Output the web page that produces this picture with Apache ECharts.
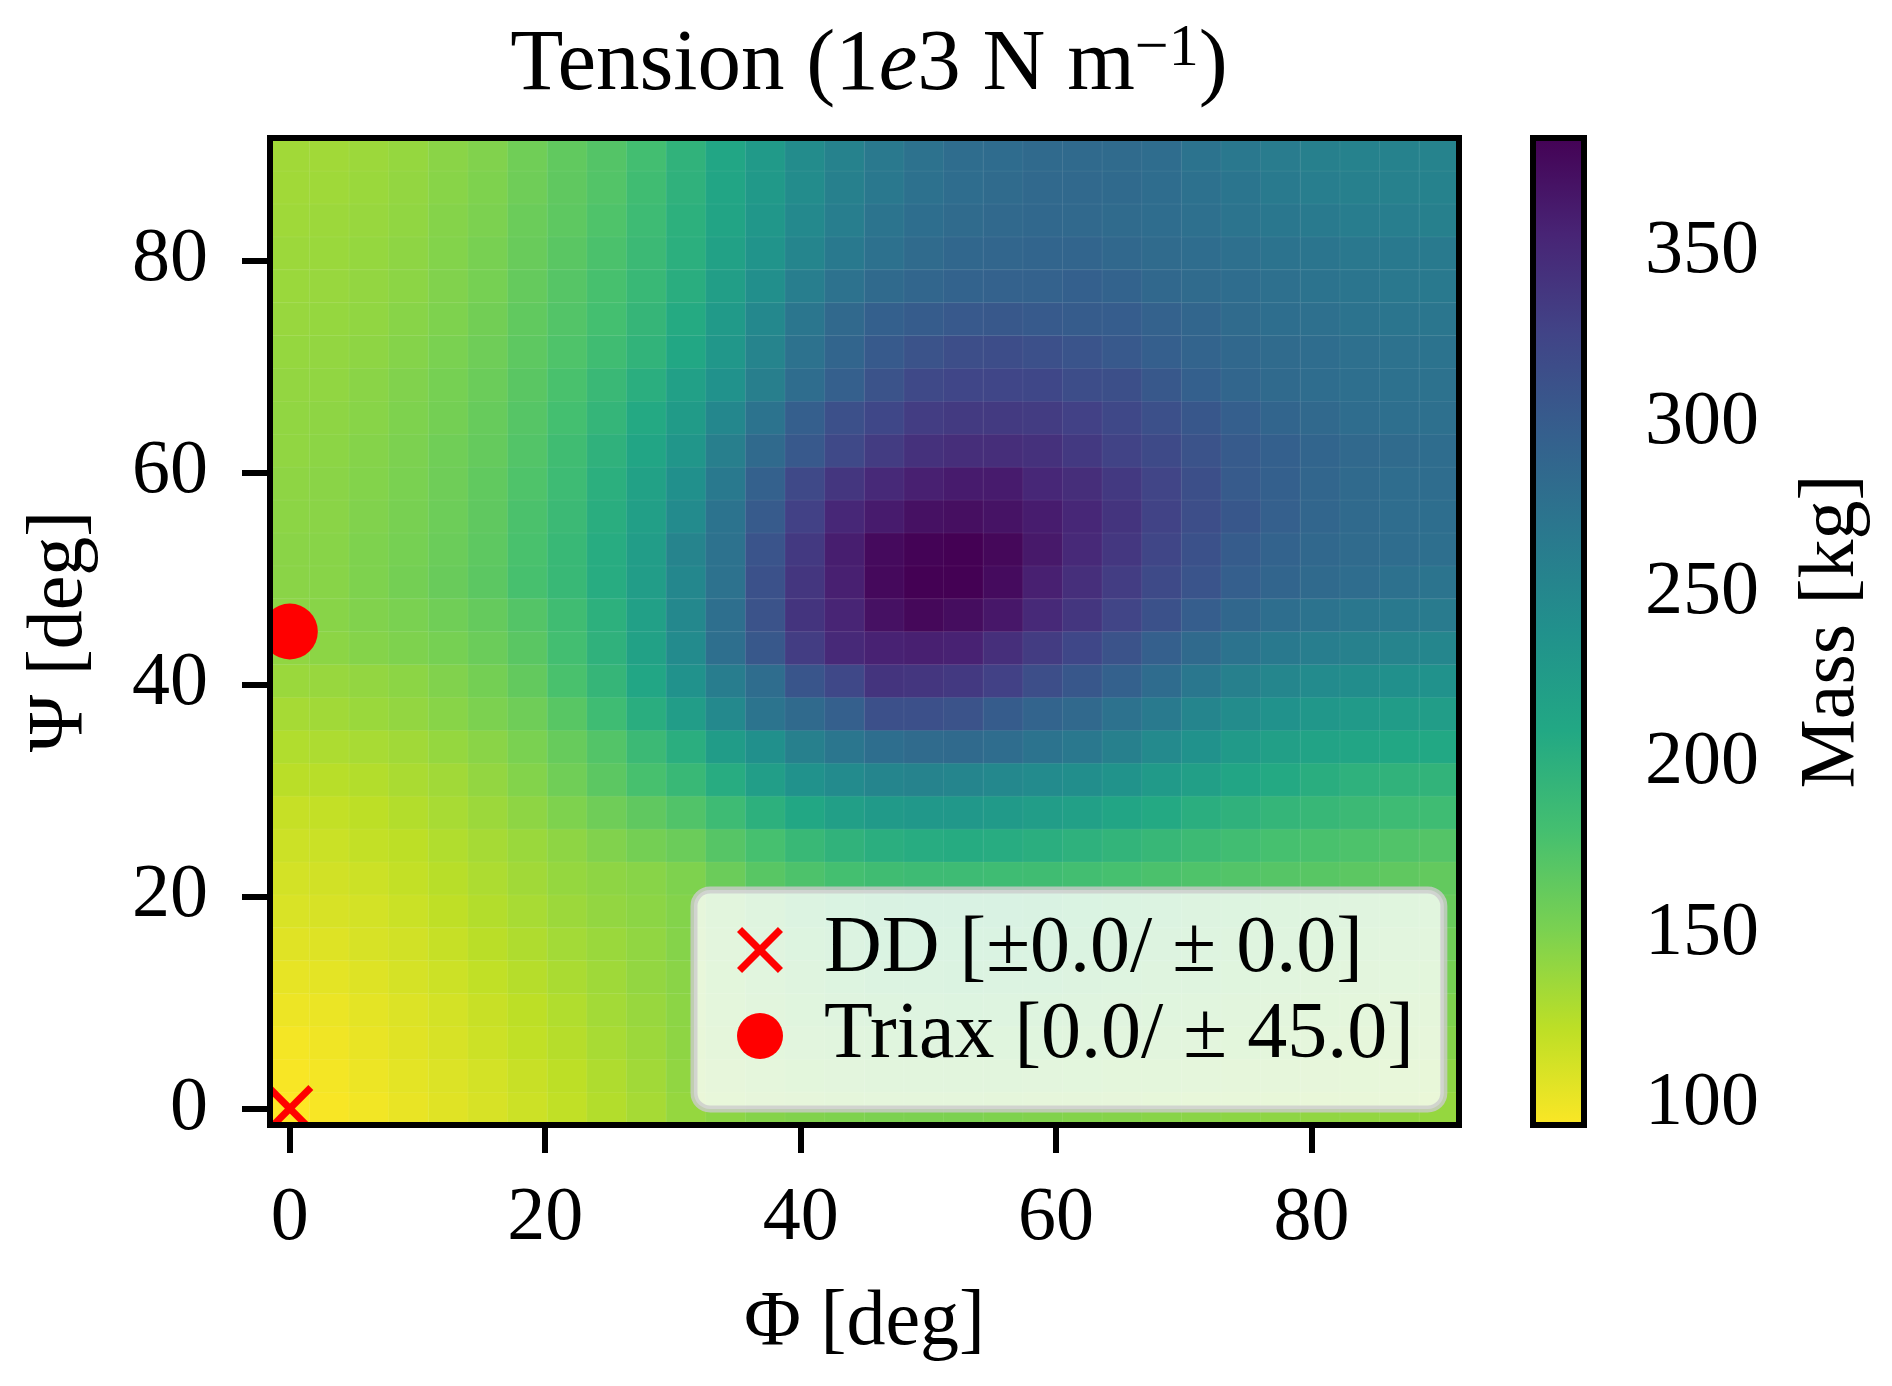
<!DOCTYPE html>
<html lang="en">
<head>
<meta charset="UTF-8">
<title>Tension</title>
<script src="https://cdn.jsdelivr.net/npm/echarts@6/dist/echarts.min.js"></script>
<style>
    html, body { margin: 0; padding: 0; background: #ffffff; }
    #chart { width: 1892px; height: 1386px; }
</style>
</head>
<body>
<div id="chart"></div>
<script type="text/javascript">
// grid angles (deg), 30 x 30 cells
var phiDeg = [0, 3.10, 6.21, 9.31, 12.41, 15.52, 18.62, 21.72, 24.83, 27.93,
    31.03, 34.14, 37.24, 40.34, 43.45, 46.55, 49.66, 52.76, 55.86, 58.97,
    62.07, 65.17, 68.28, 71.38, 74.48, 77.59, 80.69, 83.79, 86.90, 90.00];
var psiDeg = phiDeg.slice();

// mass [kg], one row per psi (row 0 = psi 0), columns follow phiDeg
var massRows = [
    [94, 96, 99, 103, 107, 111, 116, 121, 127, 133, 140, 144, 147, 149, 150, 151, 151, 151, 150, 149, 148, 147, 146, 145, 144, 143, 142, 141, 141, 140],
    [96, 98, 101, 105, 109, 113, 118, 123, 129, 135, 142, 147, 151, 154, 156, 157, 158, 158, 157, 156, 155, 153, 152, 151, 149, 148, 147, 146, 145, 143],
    [98, 100, 103, 107, 111, 116, 121, 126, 132, 137, 143, 150, 155, 159, 161, 163, 164, 164, 163, 162, 161, 159, 157, 156, 154, 152, 151, 149, 148, 147],
    [101, 102, 105, 109, 113, 118, 123, 128, 134, 139, 144, 152, 158, 162, 166, 168, 169, 170, 169, 168, 166, 164, 162, 160, 158, 156, 154, 152, 151, 150],
    [104, 105, 108, 112, 116, 121, 126, 131, 136, 141, 145, 154, 161, 166, 170, 173, 175, 176, 175, 174, 172, 169, 167, 165, 163, 160, 158, 156, 155, 154],
    [107, 108, 111, 114, 119, 124, 129, 134, 138, 142, 147, 156, 164, 170, 175, 178, 180, 180, 180, 179, 177, 174, 172, 169, 167, 165, 163, 161, 159, 157],
    [110, 111, 113, 117, 122, 127, 132, 137, 141, 144, 148, 158, 167, 173, 178, 181, 183, 183, 183, 182, 180, 177, 175, 172, 170, 168, 166, 164, 163, 161],
    [113, 114, 116, 120, 125, 130, 135, 140, 143, 146, 150, 160, 170, 176, 181, 184, 186, 186, 185, 184, 182, 180, 177, 175, 173, 171, 170, 168, 166, 164],
    [116, 117, 120, 123, 128, 133, 138, 143, 149, 155, 160, 171, 180, 190, 197, 202, 205, 206, 205, 202, 199, 195, 191, 187, 183, 180, 178, 176, 174, 172],
    [119, 120, 123, 127, 132, 137, 143, 150, 158, 166, 174, 186, 200, 211, 221, 228, 230, 230, 227, 224, 220, 214, 208, 202, 198, 194, 191, 188, 186, 185],
    [124, 125, 127, 131, 135, 141, 148, 157, 168, 179, 190, 205, 223, 238, 246, 253, 255, 253, 249, 246, 242, 236, 228, 221, 214, 208, 203, 199, 197, 196],
    [128, 130, 132, 135, 140, 145, 152, 162, 173, 188, 202, 225, 240, 259, 270, 279, 283, 284, 280, 274, 268, 258, 247, 237, 227, 221, 216, 213, 211, 210],
    [133, 135, 138, 141, 146, 151, 158, 170, 185, 203, 224, 248, 272, 284, 296, 313, 313, 310, 300, 291, 285, 275, 265, 253, 245, 238, 231, 227, 225, 224],
    [138, 139, 141, 144, 149, 155, 164, 178, 193, 212, 238, 262, 281, 307, 321, 340, 338, 336, 328, 315, 305, 294, 282, 269, 259, 252, 246, 243, 240, 238],
    [142, 144, 147, 150, 154, 160, 169, 182, 198, 218, 246, 278, 304, 332, 350, 356, 358, 356, 345, 333, 322, 310, 296, 284, 274, 266, 261, 257, 254, 252],
    [144, 146, 149, 152, 157, 163, 172, 184, 200, 220, 249, 278, 310, 340, 354, 370, 378, 374, 365, 350, 338, 325, 312, 298, 287, 279, 273, 269, 266, 264],
    [145, 146, 150, 155, 161, 168, 179, 190, 205, 224, 250, 275, 312, 338, 358, 377, 384, 384, 375, 358, 345, 332, 319, 308, 297, 290, 284, 280, 276, 272],
    [145, 146, 150, 154, 160, 167, 178, 190, 205, 224, 254, 275, 308, 336, 360, 376, 382, 384, 378, 364, 350, 337, 324, 312, 300, 292, 286, 283, 280, 278],
    [144, 145, 149, 153, 159, 166, 177, 188, 203, 221, 246, 273, 301, 328, 352, 362, 370, 372, 369, 361, 352, 340, 327, 315, 305, 296, 289, 284, 281, 279],
    [143, 145, 148, 152, 158, 165, 175, 186, 201, 218, 240, 266, 294, 320, 338, 350, 358, 362, 362, 352, 346, 336, 325, 314, 301, 295, 289, 284, 281, 280],
    [142, 144, 147, 151, 157, 163, 173, 184, 198, 213, 232, 260, 284, 303, 320, 333, 343, 346, 346, 343, 336, 327, 319, 310, 301, 295, 290, 285, 283, 280],
    [142, 143, 146, 150, 155, 162, 171, 181, 194, 208, 226, 250, 274, 297, 313, 322, 332, 335, 335, 333, 328, 321, 313, 305, 297, 290, 285, 281, 278, 277],
    [141, 142, 145, 149, 154, 160, 169, 178, 189, 202, 220, 238, 260, 281, 296, 310, 320, 323, 323, 322, 316, 314, 304, 295, 289, 284, 280, 278, 276, 275],
    [140, 141, 143, 147, 152, 158, 167, 175, 184, 196, 211, 231, 254, 275, 290, 302, 310, 315, 316, 313, 308, 303, 297, 291, 286, 283, 280, 277, 275, 274],
    [139, 140, 142, 146, 150, 156, 165, 173, 181, 193, 207, 227, 249, 270, 285, 295, 300, 303, 304, 302, 300, 299, 293, 288, 283, 279, 277, 274, 271, 270],
    [138, 139, 141, 144, 149, 154, 163, 171, 179, 190, 203, 222, 241, 261, 275, 284, 289, 292, 293, 293, 295, 292, 286, 283, 280, 277, 274, 271, 268, 266],
    [137, 138, 140, 143, 148, 153, 161, 169, 177, 188, 201, 218, 235, 253, 266, 276, 283, 287, 289, 290, 290, 286, 283, 280, 277, 274, 271, 268, 266, 265],
    [136, 137, 139, 142, 147, 151, 160, 167, 175, 186, 200, 215, 231, 248, 261, 272, 279, 283, 285, 286, 285, 283, 281, 277, 272, 269, 265, 262, 261, 259],
    [135, 136, 138, 141, 146, 150, 158, 166, 173, 184, 198, 213, 229, 245, 258, 268, 276, 281, 283, 285, 285, 284, 281, 276, 271, 265, 261, 258, 257, 256],
    [135, 135, 137, 140, 145, 149, 157, 165, 172, 182, 197, 212, 228, 244, 256, 267, 275, 280, 282, 284, 284, 283, 280, 274, 268, 263, 259, 256, 256, 255]
];

var degTicks = [0, 20, 40, 60, 80];
var massTicks = [100, 150, 200, 250, 300, 350];
var degMin = -1.552, degMax = 91.552;   // half a cell beyond 0 and 90
var massMin = 93.9, massMax = 383.6;

var ddName = 'DD [±0.0/ ± 0.0]';
var triaxName = 'Triax [0.0/ ± 45.0]';
var ddPoint = [[0, 0]];
var triaxPoint = [[0, 45]];

// viridis, dark -> light
var viridis = ['#440154', '#482475', '#414487', '#355f8d', '#2a788e', '#21918c',
    '#22a884', '#44bf70', '#7ad151', '#bddf26', '#fde725'];

var serif = 'Liberation Serif';
var red = '#ff0000';

var heatData = [];
for (var j = 0; j < psiDeg.length; j++) {
    for (var i = 0; i < phiDeg.length; i++) {
        heatData.push([i, j, massRows[j][i]]);
    }
}

var barStops = viridis.map(function (c, k) {
    return { offset: k / (viridis.length - 1), color: c };
});

function renderFrame(params, api) {
    var cs = params.coordSys;
    return {
        type: 'rect',
        shape: { x: cs.x, y: cs.y, width: cs.width, height: cs.height },
        style: { fill: 'none', stroke: '#000', lineWidth: 6 }
    };
}

function renderColorbar(params, api) {
    var cs = params.coordSys;
    return {
        type: 'rect',
        shape: { x: cs.x, y: cs.y, width: cs.width, height: cs.height },
        style: {
            fill: new echarts.graphic.LinearGradient(0, 0, 0, 1, barStops),
            stroke: '#000', lineWidth: 6
        }
    };
}

function renderCross(params, api) {
    var p = api.coord([api.value(0), api.value(1)]);
    var h = 21;
    return {
        type: 'group',
        children: [
            { type: 'line', shape: { x1: p[0] - h, y1: p[1] - h, x2: p[0] + h, y2: p[1] + h },
              style: { stroke: red, lineWidth: 7 } },
            { type: 'line', shape: { x1: p[0] - h, y1: p[1] + h, x2: p[0] + h, y2: p[1] - h },
              style: { stroke: red, lineWidth: 7 } }
        ]
    };
}

function renderDot(params, api) {
    var p = api.coord([api.value(0), api.value(1)]);
    return { type: 'circle', shape: { cx: p[0], cy: p[1], r: 28 }, style: { fill: red } };
}

var tickLabel = { fontFamily: serif, fontSize: 76, color: '#000' };
var nameStyle = { fontFamily: serif, fontSize: 78, color: '#000' };

var chart = echarts.init(document.getElementById('chart'));
chart.setOption({
    animation: false,
    backgroundColor: '#ffffff',
    title: {
        text: 'Tension (1{it|e}3 N m{sup|−1})',
        left: 864,
        top: 14,
        textAlign: 'center',
        textStyle: {
            fontFamily: serif, fontSize: 87, fontWeight: 'normal', color: '#000',
            rich: {
                it: { fontFamily: serif, fontSize: 87, fontStyle: 'italic', color: '#000' },
                sup: { fontFamily: serif, fontSize: 60, color: '#000', padding: [0, 0, 34, 0] }
            }
        }
    },
    grid: [
        { left: 270, top: 138, width: 1189, height: 987 },
        { left: 1533, top: 138, width: 51, height: 987 }
    ],
    xAxis: [
        { type: 'category', gridIndex: 0, data: phiDeg, position: 'top', show: false },
        {
            type: 'value', gridIndex: 0, position: 'bottom', min: degMin, max: degMax,
            axisLine: { show: false }, splitLine: { show: false },
            axisTick: { show: true, length: 28, customValues: degTicks, lineStyle: { color: '#000', width: 6 } },
            axisLabel: { customValues: degTicks, margin: 56, textStyle: tickLabel },
            name: 'Φ [deg]', nameLocation: 'middle', nameGap: 160, nameTextStyle: nameStyle
        },
        { type: 'value', gridIndex: 1, min: 0, max: 1, show: false }
    ],
    yAxis: [
        { type: 'category', gridIndex: 0, data: psiDeg, position: 'right', show: false },
        {
            type: 'value', gridIndex: 0, position: 'left', min: degMin, max: degMax,
            axisLine: { show: false }, splitLine: { show: false },
            axisTick: { show: true, length: 28, customValues: degTicks, lineStyle: { color: '#000', width: 6 } },
            axisLabel: { customValues: degTicks, margin: 62, textStyle: tickLabel },
            name: 'Ψ [deg]', nameLocation: 'middle', nameGap: 170, nameRotate: 90, nameTextStyle: nameStyle
        },
        {
            type: 'value', gridIndex: 1, position: 'right', min: massMin, max: massMax,
            axisLine: { show: false }, splitLine: { show: false },
            axisTick: { show: true, length: 27, customValues: massTicks, lineStyle: { color: '#000', width: 6 } },
            axisLabel: { customValues: massTicks, margin: 61, textStyle: tickLabel },
            name: 'Mass [kg]', nameLocation: 'middle', nameGap: 210, nameRotate: 90, nameTextStyle: nameStyle
        }
    ],
    visualMap: {
        show: false,
        type: 'continuous',
        seriesIndex: 0,
        min: massMin,
        max: massMax,
        inRange: { color: viridis.slice().reverse() }
    },
    legend: {
        orient: 'vertical',
        left: 694,
        top: 890,
        selectedMode: false,
        data: [
            { name: ddName, icon: 'path://M0,11L11,0L50,39L89,0L100,11L61,50L100,89L89,100L50,61L11,100L0,89L39,50Z' },
            { name: triaxName, icon: 'circle' }
        ],
        itemWidth: 100,
        itemHeight: 46,
        itemGap: 6,
        padding: [20, 30, 33, 43],
        backgroundColor: 'rgba(255,255,255,0.8)',
        borderColor: 'rgba(204,204,204,0.8)',
        borderWidth: 7,
        borderRadius: 16,
        itemStyle: { color: red },
        textStyle: { fontFamily: serif, fontSize: 80, lineHeight: 80, color: '#000', padding: [0, 0, 0, 9] }
    },
    series: [
        {
            type: 'heatmap',
            xAxisIndex: 0,
            yAxisIndex: 0,
            data: heatData,
            progressive: 0,
            itemStyle: { borderColor: 'rgba(255,255,255,0.07)', borderWidth: 1 },
            emphasis: { disabled: true }
        },
        {
            name: ddName,
            type: 'custom',
            xAxisIndex: 1,
            yAxisIndex: 1,
            clip: true,
            z: 5,
            itemStyle: { color: red },
            renderItem: renderCross,
            data: ddPoint
        },
        {
            name: triaxName,
            type: 'custom',
            xAxisIndex: 1,
            yAxisIndex: 1,
            clip: true,
            z: 5,
            itemStyle: { color: red },
            renderItem: renderDot,
            data: triaxPoint
        },
        {
            type: 'custom',
            xAxisIndex: 1,
            yAxisIndex: 1,
            z: 10,
            silent: true,
            renderItem: renderFrame,
            data: [[0, 0]]
        },
        {
            type: 'custom',
            xAxisIndex: 2,
            yAxisIndex: 2,
            z: 10,
            silent: true,
            renderItem: renderColorbar,
            data: [[0, massMin]]
        }
    ]
});
</script>
</body>
</html>
